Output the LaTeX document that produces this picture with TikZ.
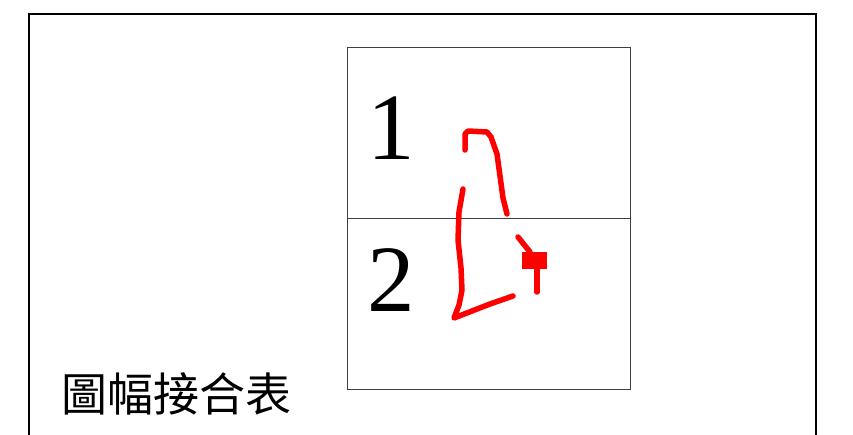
\documentclass[tikz,border=0pt]{standalone}
\usepackage{fontspec}
\setmainfont{Liberation Serif}
\newfontfamily\cjk{Noto Sans CJK TC}
\begin{document}
\begin{tikzpicture}[x=1pt,y=-1pt,
  frame/.style={draw=black,line width=2pt},
  sheet/.style={draw=black!75,line width=0.9pt},
  digit/.style={font=\fontsize{95}{95}\selectfont,inner sep=0pt,anchor=base},
  route/.style={draw=red,line width=5.5pt,line cap=round,line join=round}]
\useasboundingbox (0,0) rectangle (853,435);
\draw[frame] (28.5,440) -- (28.5,14.5) -- (816,14.5) -- (816,440);
\node[sheet,minimum width=283.5pt,minimum height=170.5pt,inner sep=0pt,anchor=north west] (s1) at (346.5,47.5) {};
\node[sheet,minimum width=283.5pt,minimum height=170.5pt,inner sep=0pt,anchor=north west] (s2) at (346.5,218) {};
\node[digit] (n1) at (391.5,160) {1};
\node[digit] (n2) at (391.5,311) {2};
\node[font=\cjk\fontsize{46}{46}\selectfont,inner sep=0pt] (title) at (176,394) {圖幅接合表};
\draw[route] (465,150) -- (465,134) -- (468,131) -- (487,132) -- (491,137) -- (497,154) -- (500,176) -- (503,198) -- (507,214);
\draw[route] (518,237) -- (530,252);
\fill[red] (522,252) rectangle (547,269);
\draw[route] (537,268) -- (537,292);
\draw[route] (513,296) -- (490,304) -- (454,318) -- (459,305) -- (462,290) -- (461,268) -- (458,240) -- (459,212) -- (463,189);
\end{tikzpicture}
\end{document}
